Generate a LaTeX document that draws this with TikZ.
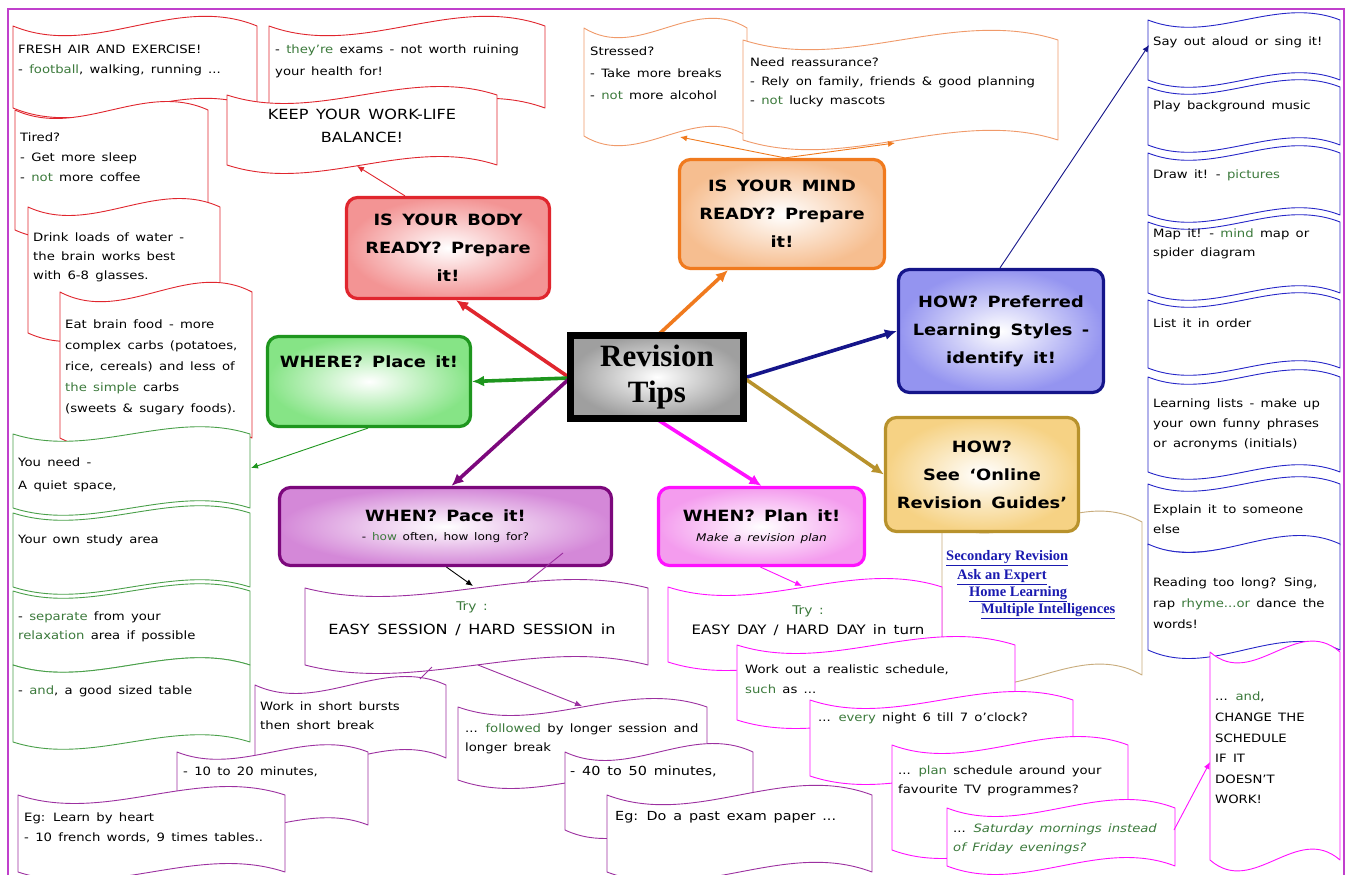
\documentclass[tikz,border=0pt]{standalone}
\usepackage{fontspec}
\setmainfont{DejaVu Sans}[FakeStretch=1.15,WordSpace=1.5]
\newfontfamily\tnr{Liberation Serif}
\usetikzlibrary{arrows.meta,calc}
\definecolor{framec}{HTML}{C040CC}
\definecolor{cred}{HTML}{E0262E}
\definecolor{fred}{HTML}{F39494}
\definecolor{cora}{HTML}{F07A1E}
\definecolor{fora}{HTML}{F6BE90}
\definecolor{lora}{HTML}{F09A6A}
\definecolor{cnav}{HTML}{15158A}
\definecolor{fnav}{HTML}{9494F0}
\definecolor{cgold}{HTML}{B8922C}
\definecolor{fgold}{HTML}{F6D284}
\definecolor{ltan}{HTML}{C8AC7C}
\definecolor{cmag}{HTML}{FF10FF}
\definecolor{fmag}{HTML}{F49CEE}
\definecolor{cpur}{HTML}{7C087C}
\definecolor{fpur}{HTML}{D488D8}
\definecolor{lpur}{HTML}{9C30A0}
\definecolor{cgrn}{HTML}{1E961E}
\definecolor{fgrn}{HTML}{86E486}
\definecolor{lgrn}{HTML}{4AA04A}
\definecolor{lblu}{HTML}{2626C8}
\definecolor{sqg}{HTML}{3C7A3C}
\definecolor{linkc}{HTML}{1A1AB0}
\newcommand\sq[1]{\textcolor{sqg}{#1}}
\newcommand\wbox[7]{%
 \pgfmathsetmacro\wxa{#2+(#4-#2)/3}%
 \pgfmathsetmacro\wxb{#2+2*(#4-#2)/3}%
 \pgfmathsetmacro\wk{4.2*#6}%
 \draw[#7] (#2,#3) .. controls (\wxa,#3+\wk) and (\wxb,#3-\wk) .. (#4,#3) -- (#4,#5) .. controls (\wxb,#5-\wk) and (\wxa,#5+\wk) .. (#2,#5) -- cycle;
 \coordinate (#1) at ({(#2+#4)/2},{(#3+#5)/2});
}
\tikzset{
 wave/.style={line width=0.9pt, fill=white, line join=round},
 rw/.style={wave, draw=cred},
 gw/.style={wave, draw=lgrn},
 ow/.style={wave, draw=lora},
 bw/.style={wave, draw=lblu},
 tw/.style={wave, draw=ltan},
 pw/.style={wave, draw=lpur},
 mw/.style={wave, draw=cmag},
 ct/.style={anchor=north west, inner sep=0pt, align=left, font=\fontsize{11.5}{#1}\selectfont},
 ct/.default=20,
 cc/.style={anchor=north, inner sep=0pt, align=center, font=\fontsize{14}{#1}\selectfont},
 cc/.default=23,
 lk/.style={anchor=west, inner sep=0pt, text=linkc, font=\tnr\bfseries\fontsize{14.5}{16}\selectfont},
 mbox/.style={rounded corners=11pt, line width=3.2pt, shading=radial, inner color=white, align=center, inner sep=2pt, font=\bfseries\fontsize{15.5}{28}\selectfont},
 thk/.style={line width=3.6pt, -{Latex[length=12pt,width=11pt]}},
 tarr/.style={line width=0.9pt, -{Latex[length=7pt,width=6pt]}},
}
\begin{document}
\begin{tikzpicture}[x=1pt,y=-1pt]
\useasboundingbox (0,0) rectangle (1352,875);
\clip (0,0) rectangle (1352,875);
\fill[white] (0,0) rectangle (1352,875);
\draw[framec, line width=1.6pt] (8,9) rectangle (1344,890);

% red callouts
\wbox{r1}{13}{26}{257}{108}{8}{rw}
\node[ct] (r1t) at (18,45) {FRESH AIR AND EXERCISE!\\ - \sq{football}, walking, running ...};
\wbox{r2}{269}{26}{545}{108}{8}{rw}
\node[ct=22] (r2t) at (275,45) {- \sq{they're} exams - not worth ruining\\ your health for!};
\wbox{r3}{227}{95}{497}{165}{7}{rw}
\node[cc] (r3t) at (362,109) {KEEP YOUR WORK-LIFE\\ BALANCE!};
\wbox{r4}{15}{110}{208}{230}{7}{rw}
\node[ct] (r4t) at (20,133) {Tired?\\ - Get more sleep\\ - \sq{not} more coffee};
\wbox{r5}{28}{207}{220}{333}{7}{rw}
\node[ct=19] (r5t) at (33,233) {Drink loads of water -\\ the brain works best\\ with 6-8 glasses.};
\wbox{r6}{60}{292}{252}{438}{8}{rw}
\node[ct=21] (r6t) at (65,320) {Eat brain food - more\\ complex carbs (potatoes,\\ rice, cereals) and less of\\ \sq{the simple} carbs\\ (sweets \& sugary foods).};

% green callouts
\wbox{g1}{13}{434}{250}{508}{6}{gw}
\node[ct=23] (g1t) at (18,458) {You need -\\ A quiet space,};
\wbox{g2}{13}{513}{250}{587}{6}{gw}
\node[ct] (g2t) at (18,535) {Your own study area};
\wbox{g3}{13}{591}{250}{665}{6}{gw}
\node[ct=19] (g3t) at (18,612) {- \sq{separate} from your\\ \sq{relaxation} area if possible};
\wbox{g4}{13}{665}{250}{742}{6}{gw}
\node[ct] (g4t) at (18,686) {- \sq{and}, a good sized table};

% orange callouts
\wbox{o1}{584}{28}{747}{136}{8}{ow}
\node[ct=22] (o1t) at (590,47) {Stressed?\\ - Take more breaks\\ - \sq{not} more alcohol};
\wbox{o2}{743}{40}{1058}{140}{8}{ow}
\node[ct=19] (o2t) at (750,58) {Need reassurance?\\ - Rely on family, friends \& good planning\\ - \sq{not} lucky mascots};

% blue callouts
\wbox{b1}{1148}{20}{1340}{80}{6}{bw}
\node[ct] (b1t) at (1153,37) {Say out aloud or sing it!};
\wbox{b2}{1148}{87}{1340}{145}{6}{bw}
\node[ct] (b2t) at (1153,101) {Play background music};
\wbox{b3}{1148}{153}{1340}{215}{6}{bw}
\node[ct] (b3t) at (1153,170) {Draw it! - \sq{pictures}};
\wbox{b4}{1148}{222}{1340}{293}{6}{bw}
\node[ct=19] (b4t) at (1153,229) {Map it! - \sq{mind} map or\\ spider diagram};
\wbox{b5}{1148}{300}{1340}{368}{6}{bw}
\node[ct] (b5t) at (1153,319) {List it in order};
\wbox{b6}{1148}{377}{1340}{472}{6}{bw}
\node[ct] (b6t) at (1153,399) {Learning lists - make up\\ your own funny phrases\\ or acronyms (initials)};
\wbox{b7}{1148}{484}{1340}{545}{6}{bw}
\node[ct] (b7t) at (1153,505) {Explain it to someone\\ else};
\wbox{b8}{1148}{544}{1340}{650}{7}{bw}
\node[ct=21] (b8t) at (1153,578) {Reading too long? Sing,\\ rap \sq{rhyme...or} dance the\\ words!};

% tan callout with links
\wbox{t1}{942}{522}{1142}{675}{9}{tw}
\node[lk] (l1) at (946,558) {\underline{Secondary Revision}};
\node[lk] (l2) at (957,577) {\underline{Ask an Expert}};
\node[lk] (l3) at (969,594) {\underline{Home Learning}};
\node[lk] (l4) at (981,611) {\underline{Multiple Intelligences}};

% purple callouts
\wbox{p1}{305}{588}{648}{665}{7}{pw}
\node[cc=24] (p1t) at (472,602) {{\fontsize{12}{13}\selectfont\sq{Try :}}\\ EASY SESSION / HARD SESSION in};
\wbox{p2}{255}{685}{446}{758}{7}{pw}
\node[ct=19] (p2t) at (260,702) {Work in short bursts\\ then short break};
\wbox{p3}{177}{752}{368}{825}{6}{pw}
\node[ct] (p3t) at (183,767) {- 10 to 20 minutes,};
\wbox{p4}{18}{795}{285}{872}{7}{pw}
\node[ct] (p4t) at (24,813) {Eg: Learn by heart\\ - 10 french words, 9 times tables..};
\wbox{p5}{458}{707}{707}{780}{7}{pw}
\node[ct=19] (p5t) at (465,724) {... \sq{followed} by longer session and\\ longer break};
\wbox{p6}{565}{752}{753}{830}{7}{pw}
\node[ct, font=\fontsize{12.5}{20}\selectfont] (p6t) at (570,766) {- 40 to 50 minutes,};
\wbox{p7}{607}{795}{872}{872}{8}{pw}
\node[ct, font=\fontsize{12.5}{20}\selectfont] (p7t) at (615,811) {Eg: Do a past exam paper ...};

% magenta callouts
\wbox{m1}{668}{587}{942}{662}{7}{mw}
\node[cc=20, font=\fontsize{13}{20}\selectfont] (m1t) at (808,606) {{\fontsize{12}{13}\selectfont\sq{Try :}}\\ EASY DAY / HARD DAY in turn};
\wbox{m2}{737}{645}{1015}{720}{7}{mw}
\node[ct] (m2t) at (745,665) {Work out a realistic schedule,\\ \sq{such} as ...};
\wbox{m3}{810}{700}{1073}{776}{7}{mw}
\node[ct] (m3t) at (818,713) {... \sq{every} night 6 till 7 o'clock?};
\wbox{m4}{892}{745}{1128}{850}{7}{mw}
\node[ct=19] (m4t) at (898,766) {... \sq{plan} schedule around your\\ favourite TV programmes?};
\wbox{m5}{947}{808}{1175}{866}{7}{mw}
\node[ct=19] (m5t) at (953,824) {... \sq{\itshape Saturday mornings instead}\\ \sq{\itshape of Friday evenings?}};
\wbox{m6}{1210}{652}{1340}{860}{9}{mw}
\node[ct=20.6] (m6t) at (1215,692) {... \sq{and},\\ CHANGE THE\\ SCHEDULE\\ IF IT\\ DOESN'T\\ WORK!};

% main boxes
\node[mbox, draw=cred, outer color=fred, minimum width=203pt, minimum height=101pt] (body) at (448,248) {IS YOUR BODY\\READY? Prepare\\it!};
\node[mbox, draw=cora, outer color=fora, minimum width=205pt, minimum height=109pt] (mind) at (782,214) {IS YOUR MIND\\READY? Prepare\\it!};
\node[mbox, draw=cnav, outer color=fnav, minimum width=205pt, minimum height=123pt] (howp) at (1001,331) {HOW? Preferred\\Learning Styles -\\identify it!};
\node[mbox, draw=cgold, outer color=fgold, minimum width=193pt, minimum height=114pt] (howo) at (982,474.5) {HOW?\\See `Online\\Revision Guides'};
\node[mbox, draw=cgrn, outer color=fgrn, minimum width=203pt, minimum height=90pt] (where) at (369,381.5) {};
\node[inner sep=0pt, font=\bfseries\fontsize{15.5}{20}\selectfont] (wheret) at (369,362) {WHERE? Place it!};
\node[mbox, draw=cpur, outer color=fpur, minimum width=332pt, minimum height=78pt, font=\bfseries\fontsize{15.5}{22}\selectfont] (pace) at (445.5,526.5) {WHEN? Pace it!\\[-3pt]{\mdseries\fontsize{10.5}{12}\selectfont - \sq{how} often, how long for?}};
\node[mbox, draw=cmag, outer color=fmag, minimum width=206pt, minimum height=78pt, font=\bfseries\fontsize{15.5}{22}\selectfont] (plan) at (761.5,526.5) {WHEN? Plan it!\\[-2pt]{\mdseries\itshape\fontsize{10.5}{12}\selectfont Make a revision plan}};

% thin connectors
\coordinate (keepb) at (357,166);
\draw[tarr, cred] ($(body.north)+(-43,0)$) -- (keepb);
\coordinate (g1r) at (251,468);
\draw[tarr, cgrn] ($(where.south)+(-1,0)$) -- (g1r);
\coordinate (o1b) at (680,137);
\coordinate (o2b) at (895,143);
\draw[tarr, cora] ($(mind.north)+(3,0)$) -- (o1b);
\draw[tarr, cora] ($(mind.north)+(3,0)$) -- (o2b);
\coordinate (b1l) at (1149,45);
\draw[tarr, cnav] ($(howp.north)+(-1,0)$) -- (b1l);
\coordinate (p1top) at (473,586);
\draw[tarr, black] ($(pace.south)+(1,0)$) -- (p1top);
\coordinate (pl1) at (563,553);
\coordinate (pl2) at (527,582);
\draw[lpur, line width=0.9pt] (pl1) -- (pl2);
\coordinate (p1b1) at (478,665);
\coordinate (p5top) at (582,706);
\draw[tarr, lpur] (p1b1) -- (p5top);
\coordinate (p1b2) at (432,667);
\coordinate (p2top) at (420,679);
\draw[lpur, line width=0.9pt] (p1b2) -- (p2top);
\coordinate (m1top) at (802,586);
\draw[tarr, cmag] ($(plan.south)+(-1,0)$) -- (m1top);
\coordinate (m5r) at (1174,830);
\coordinate (m6l) at (1210,762);
\draw[tarr, cmag] (m5r) -- (m6l);

% thick connectors from the centre
\coordinate (cw) at (570,378);
\coordinate (ce) at (744,378);
\draw[thk, cred] (cw) -- ($(body.south)+(8,0)$);
\draw[thk, cgrn] (cw) -- (where.east);
\draw[thk, cpur] (cw) -- ($(pace.north)+(6,0)$);
\draw[thk, cora] (657,336) -- ($(mind.south)+(-54,0)$);
\draw[thk, cnav] (ce) -- (howp.west);
\draw[thk, cgold] (ce) -- (howo.west);
\draw[thk, cmag] (655,418) -- (plan.north);

\node[draw=black, line width=7pt, shading=radial, inner color=white, outer color=gray!75, minimum width=173pt, minimum height=83pt, align=center, inner sep=0pt, font=\tnr\bfseries\fontsize{31}{36}\selectfont] (c) at (657,377) {Revision\\Tips};
\end{tikzpicture}
\end{document}
